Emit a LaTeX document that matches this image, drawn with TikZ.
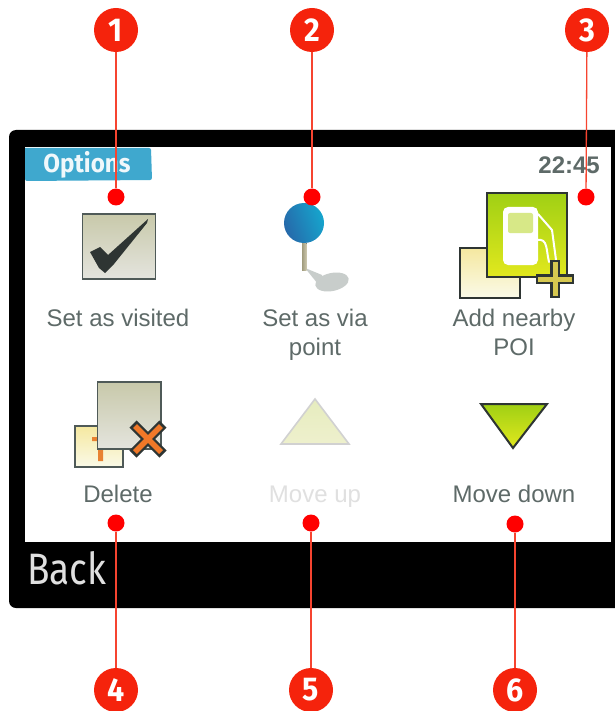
\documentclass[tikz,border=0pt]{standalone}
\usepackage{fontspec}
\setmainfont{Liberation Sans}
\newfontfamily\din[FakeStretch=0.84]{Fira Sans}
\newfontfamily\optf[FakeStretch=0.93]{Fira Sans}
\newfontfamily\badge[FakeStretch=0.92]{Fira Sans}
\definecolor{lab}{HTML}{5E6A68}
\definecolor{edgeg}{HTML}{4F5A58}
\definecolor{dark}{HTML}{2E3533}
\definecolor{mark}{HTML}{FF0000}
\definecolor{badgec}{HTML}{F5230C}
\definecolor{tabc}{HTML}{3FA8CE}
\definecolor{grayt}{RGB}{200,201,170}
\definecolor{grayb}{RGB}{228,228,222}
\definecolor{yelt}{RGB}{245,232,160}
\definecolor{yelb}{RGB}{250,250,232}
\definecolor{grnt}{RGB}{160,208,20}
\definecolor{grnb}{RGB}{226,232,30}
\definecolor{stemd}{RGB}{160,155,125}
\definecolor{steml}{RGB}{205,200,175}
\definecolor{pinl}{RGB}{22,165,205}
\definecolor{pind}{RGB}{38,105,170}
\definecolor{shadow}{RGB}{200,205,203}
\definecolor{winc}{RGB}{215,232,135}
\definecolor{plusc}{RGB}{214,200,80}
\definecolor{orangeb}{RGB}{232,130,50}
\definecolor{orangex}{RGB}{240,120,40}
\definecolor{upt}{RGB}{230,236,190}
\definecolor{upb}{RGB}{238,240,205}
\tikzset{
  x=1pt,y=-1pt,
  lbl/.style={font=\fontsize{24}{24}\selectfont,text=lab,inner sep=0pt,anchor=base},
  numbadge/.style={circle,fill=badgec,minimum size=44pt,inner sep=0pt,text=white,font=\badge\bfseries\fontsize{33}{33}\selectfont},
  reddot/.style={circle,fill=mark,minimum size=17pt,inner sep=0pt},
  leader/.style={draw=badgec!85!white,line width=1.3pt},
  graybox/.style={draw=edgeg,line width=1.6pt,top color=grayt,bottom color=grayb},
  yellowbox/.style={draw=dark,line width=1.6pt,top color=yelt,bottom color=yelb},
  greenfill/.style={top color=grnt,bottom color=grnb},
}
\begin{document}
\begin{tikzpicture}
\useasboundingbox (0,0) rectangle (614,711);
% device frame
\fill[black,rounded corners=7pt] (630,130) -- (9,130) -- (9,608) -- (630,608) -- cycle;
\fill[white] (25,147) rectangle (611,542);
% tab
\fill[tabc,rounded corners=2pt] (25,148) -- (151,148) -- (152,180) -- (25,181) [sharp corners] -- cycle;
\node[font=\optf\bfseries\fontsize{26}{26}\selectfont,text=white!92!tabc,inner sep=0pt] (opt) at (87,165) {Options};
\node[font=\bfseries\fontsize{24}{24}\selectfont,text=lab,inner sep=0pt,anchor=east] (clock) at (600,165) {22:45};
\node[font=\din\fontsize{44}{44}\selectfont,text=white!88!black,inner sep=0pt,anchor=west] (back) at (27,568) {Back};

% visited icon
\draw[graybox] (82.5,214) rectangle (155.5,279);
\fill[dark] (90,252) -- (100,247) -- (108,255) -- (148,219) -- (147,223) -- (114,264) -- (105,273) -- (99,268) -- cycle;

% pin icon
\fill[shadow] (305,268) -- (322,275) -- (322,289) -- cycle;
\fill[shadow,rotate around={12:(332,282)}] (332,282) ellipse (17 and 9);
\fill[left color=stemd,right color=steml] (302,243) rectangle (306.5,270);
\shade[left color=pinl,right color=pind,shading angle=-70] (304,223) circle (20);

% POI icon
\draw[yellowbox] (460,248) rectangle (520,298);
\draw[draw=dark,line width=2pt,greenfill] (487,193.5) rectangle (566.5,277);
\fill[white,rounded corners=5pt] (503,207) rectangle (538,265);
\fill[winc,rounded corners=2pt] (508,213) rectangle (533,233);
\draw[white,line width=2pt,line cap=round] (538,214) -- (552,230) -- (556,260) (537,240) .. controls (548,238) and (546,250) .. (549,262);
\draw[dark,line width=10pt] (536,279) -- (574,279) (555,260) -- (555,298);
\draw[plusc,line width=5pt] (538,279) -- (572,279) (555,262) -- (555,296);

% delete icon
\draw[yellowbox,draw=edgeg] (75,426) rectangle (123,467);
\fill[orangeb] (92,437) rectangle (97,441) (98,450) rectangle (103,461);
\draw[graybox] (97.5,382) rectangle (161,449);
\draw[dark,line width=10pt] (133,424) -- (163,454) (163,424) -- (133,454);
\draw[orangex,line width=5.5pt] (135,426) -- (161,452) (161,426) -- (135,452);

% arrows
\draw[draw=black!18,line width=1.6pt,top color=upt,bottom color=upb] (315,399) -- (349,444) -- (281,444) -- cycle;
\draw[draw=dark,line width=2pt,greenfill] (481,404) -- (547,404) -- (513,448) -- cycle;

% labels
\node[lbl] (t1) at (118,326) {Set as visited};
\node[lbl] (t2) at (315,326) {Set as via};
\node[lbl] (t2b) at (315,355) {point};
\node[lbl] (t3) at (514,326) {Add nearby};
\node[lbl] (t3b) at (514,355) {POI};
\node[lbl] (t4) at (118,502) {Delete};
\node[lbl,text=black!12] (t5) at (315,502) {Move up};
\node[lbl] (t6) at (514,502) {Move down};

% callouts
\node[numbadge] (n1) at (116,30) {1};
\node[numbadge] (n2) at (312,30) {2};
\node[numbadge] (n3) at (587,30) {3};
\node[numbadge] (n4) at (116,690) {4};
\node[numbadge] (n5) at (311,690) {5};
\node[numbadge] (n6) at (515,690) {6};
\node[reddot] (d1) at (116,197) {};
\node[reddot] (d2) at (312,197) {};
\node[reddot] (d3) at (586,197) {};
\node[reddot] (d4) at (116,523) {};
\node[reddot] (d5) at (311,523) {};
\node[reddot] (d6) at (515,524) {};
\draw[leader] (n1) -- (d1);
\draw[leader] (n2) -- (d2);
\draw[leader] (n3) -- (d3);
\draw[leader] (n4) -- (d4);
\draw[leader] (n5) -- (d5);
\draw[leader] (n6) -- (d6);
\end{tikzpicture}
\end{document}
